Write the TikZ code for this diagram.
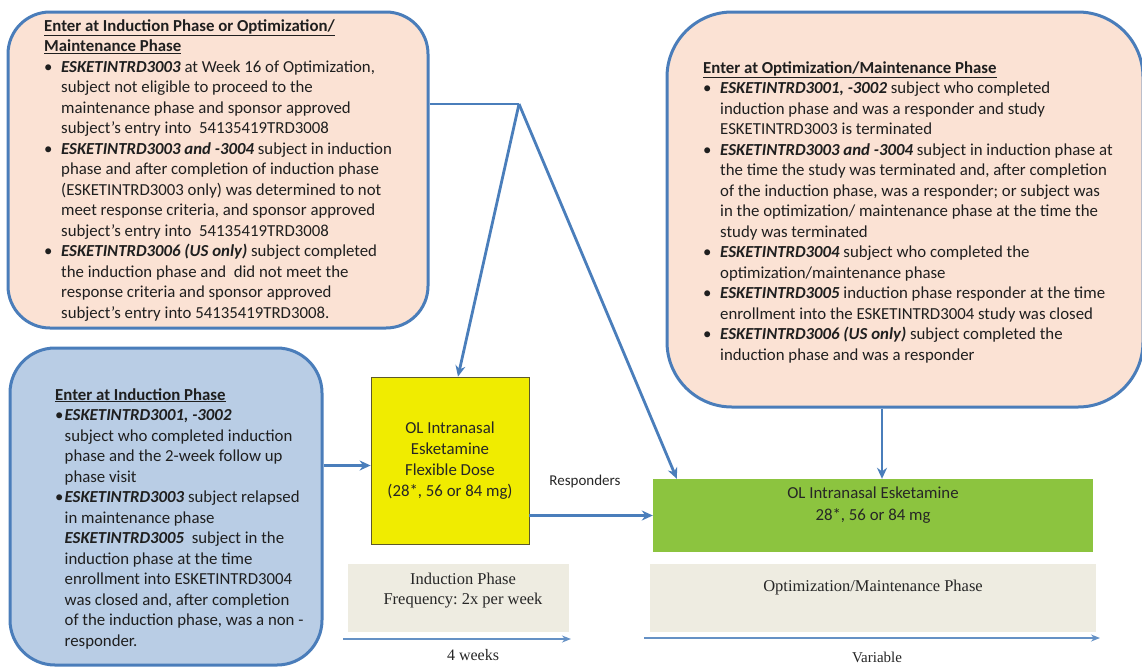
\documentclass[tikz,border=0pt]{standalone}
\usepackage{fontspec}
\setmainfont{Carlito}
\newfontfamily\phasefont{Liberation Serif}
\usetikzlibrary{arrows.meta}
\definecolor{boxline}{HTML}{4A7DBA}
\definecolor{peach}{HTML}{FBE2D4}
\definecolor{paleblue}{HTML}{B9CDE5}
\definecolor{dosey}{HTML}{F0EC00}
\definecolor{doseg}{HTML}{8CC43F}
\definecolor{phasegray}{HTML}{EEECE1}
\definecolor{arrowblue}{HTML}{4A7EBB}
\newlength{\bulw}
\setlength{\bulw}{17pt}
\newcommand{\bul}{\makebox[\bulw][l]{\textbullet}}
\newcommand{\ind}{\hspace*{\bulw}}
\newcommand{\study}[1]{\textbf{\textit{#1}}}
\frenchspacing

\begin{document}
\begin{tikzpicture}[x=1pt, y=-1pt,
		entrybox/.style={draw=boxline, line width=3pt, inner sep=0pt},
		entrytext/.style={anchor=north west, align=left, inner sep=0pt, text=black!88,
			font=\fontsize{16.8}{20.5}\selectfont},
		dosebox/.style={inner sep=0pt, align=center, text=black!85,
			font=\fontsize{16.8}{21}\selectfont},
		phasebox/.style={fill=phasegray, inner sep=0pt},
		phasetext/.style={align=center, inner sep=0pt, text=black!85,
			font=\phasefont\fontsize{16.5}{19.5}\selectfont},
		link/.style={draw=arrowblue, line width=2.8pt, -{Stealth[length=11pt,width=10pt]}},
		timeline/.style={draw=arrowblue!85, line width=1.5pt, -{Stealth[length=9pt,width=7pt]}}]
			%%%%% START %%%%%
			\useasboundingbox (0,0) rectangle (1142,667);
			
			% entry boxes
			\node[entrybox, fill=peach, minimum width=420pt, minimum height=316pt, rounded corners=42pt] (tl) at (218,170) {};
			\node[entrybox, fill=peach, minimum width=476pt, minimum height=395pt, rounded corners=65pt] (rt) at (905,209.5) {};
			\node[entrybox, fill=paleblue, minimum width=312pt, minimum height=317pt, rounded corners=45pt] (bl) at (166,506.5) {};
			
			\node[entrytext] (tltext) at (44,19) {%
				\underline{\textbf{Enter at Induction Phase or Optimization/}}\\
				\underline{\textbf{Maintenance Phase}}\\
				\bul\study{ESKETINTRD3003} at Week 16 of Optimization,\\
				\ind subject not eligible to proceed to the\\
				\ind maintenance phase and sponsor approved\\
				\ind subject’s entry into\ \ 54135419TRD3008\\
				\bul\study{ESKETINTRD3003 and -3004} subject in induction\\
				\ind phase and after completion of induction phase\\
				\ind (ESKETINTRD3003 only) was determined to not\\
				\ind meet response criteria, and sponsor approved\\
				\ind subject’s entry into\ \ 54135419TRD3008\\
				\bul\study{ESKETINTRD3006 (US only)} subject completed\\
				\ind the induction phase and\ \ did not meet the\\
				\ind response criteria and sponsor approved\\
				\ind subject’s entry into 54135419TRD3008.};
			
			\node[entrytext] (rttext) at (703,61) {%
				\underline{\textbf{Enter at Optimization/Maintenance Phase}}\\
				\bul\study{ESKETINTRD3001, -3002} subject who completed\\
				\ind induction phase and was a responder and study\\
				\ind ESKETINTRD3003 is terminated\\
				\bul\study{ESKETINTRD3003 and -3004} subject in induction phase at\\
				\ind the time the study was terminated and, after completion\\
				\ind of the induction phase, was a responder; or subject was\\
				\ind in the optimization/ maintenance phase at the time the\\
				\ind study was terminated\\
				\bul\study{ESKETINTRD3004} subject who completed the\\
				\ind optimization/maintenance phase\\
				\bul\study{ESKETINTRD3005} induction phase responder at the time\\
				\ind enrollment into the ESKETINTRD3004 study was closed\\
				\bul\study{ESKETINTRD3006 (US only)} subject completed the\\
				\ind induction phase and was a responder};
			
			\node[entrytext, font=\fontsize{16.8}{20.5}\selectfont\setlength{\bulw}{9.5pt}] (bltext) at (55,388) {%
				\underline{\textbf{Enter at Induction Phase}}\\
				\bul\study{ESKETINTRD3001, -3002}\\
				\ind subject who completed induction\\
				\ind phase and the 2-week follow up\\
				\ind phase visit\\
				\bul\study{ESKETINTRD3003} subject relapsed\\
				\ind in maintenance phase\\
				\ind\study{ESKETINTRD3005}\ \ subject in the\\
				\ind induction phase at the time\\
				\ind enrollment into ESKETINTRD3004\\
				\ind was closed and, after completion\\
				\ind of the induction phase, was a non -\\
				\ind responder.};
			
			% dosing boxes
			\node[dosebox, fill=dosey, draw=black!45!olive, line width=0.8pt, minimum width=158pt, minimum height=167pt] (yel) at (450,460.5)
				{OL Intranasal\\Esketamine\\Flexible Dose\\(28*, 56 or 84 mg)};
			\node[dosebox, fill=doseg, minimum width=440pt, minimum height=73pt] (grn) at (873,515.5) {};
			\node[dosebox, font=\fontsize{16.8}{22}\selectfont] (grntext) at (873,505) {OL Intranasal Esketamine\\28*, 56 or 84 mg};
			\node[inner sep=0pt, text=black!85, font=\fontsize{15}{18}\selectfont] (resp) at (585,481) {Responders};
			
			% phases
			\node[phasebox, minimum width=221pt, minimum height=68pt] (indph) at (458.5,598) {};
			\node[phasetext] (indtext) at (463,590.5) {Induction Phase\\Frequency: 2x per week};
			\node[phasebox, minimum width=446pt, minimum height=68pt] (optph) at (873,598) {};
			\node[phasetext] (opttext) at (873,588) {Optimization/Maintenance Phase};
			
			\coordinate (indA) at (343,639);
			\coordinate (indB) at (571,639);
			\coordinate (optA) at (644,638);
			\coordinate (optB) at (1100,638);
			\draw[timeline] (indA) -- (indB);
			\draw[timeline] (optA) -- (optB);
			\node[phasetext, font=\phasefont\fontsize{16}{19}\selectfont] (wk) at (473,655) {4 weeks};
			\node[phasetext, font=\phasefont\fontsize{15}{19}\selectfont] (var) at (877,657) {Variable};
			
			% connectors
			\coordinate (split) at (519,104);
			\coordinate (rtx) at (882,0);
			\coordinate (yelin) at ([yshift=-5pt]yel.west);
			\draw[link, -] (tl.east |- split) -- (split);
			\draw[link] (split) -- ([xshift=8pt]yel.north);
			\draw[link] (split) -- ([xshift=24pt]grn.north west);
			\draw[link] (bl.east |- yelin) -- (yelin);
			\draw[link] (yel.east |- grn.west) -- (grn.west);
			\draw[link] (rt.south -| rtx) -- (grn.north -| rtx);
			
			%%%%% END %%%%%
\end{tikzpicture}
\end{document}
